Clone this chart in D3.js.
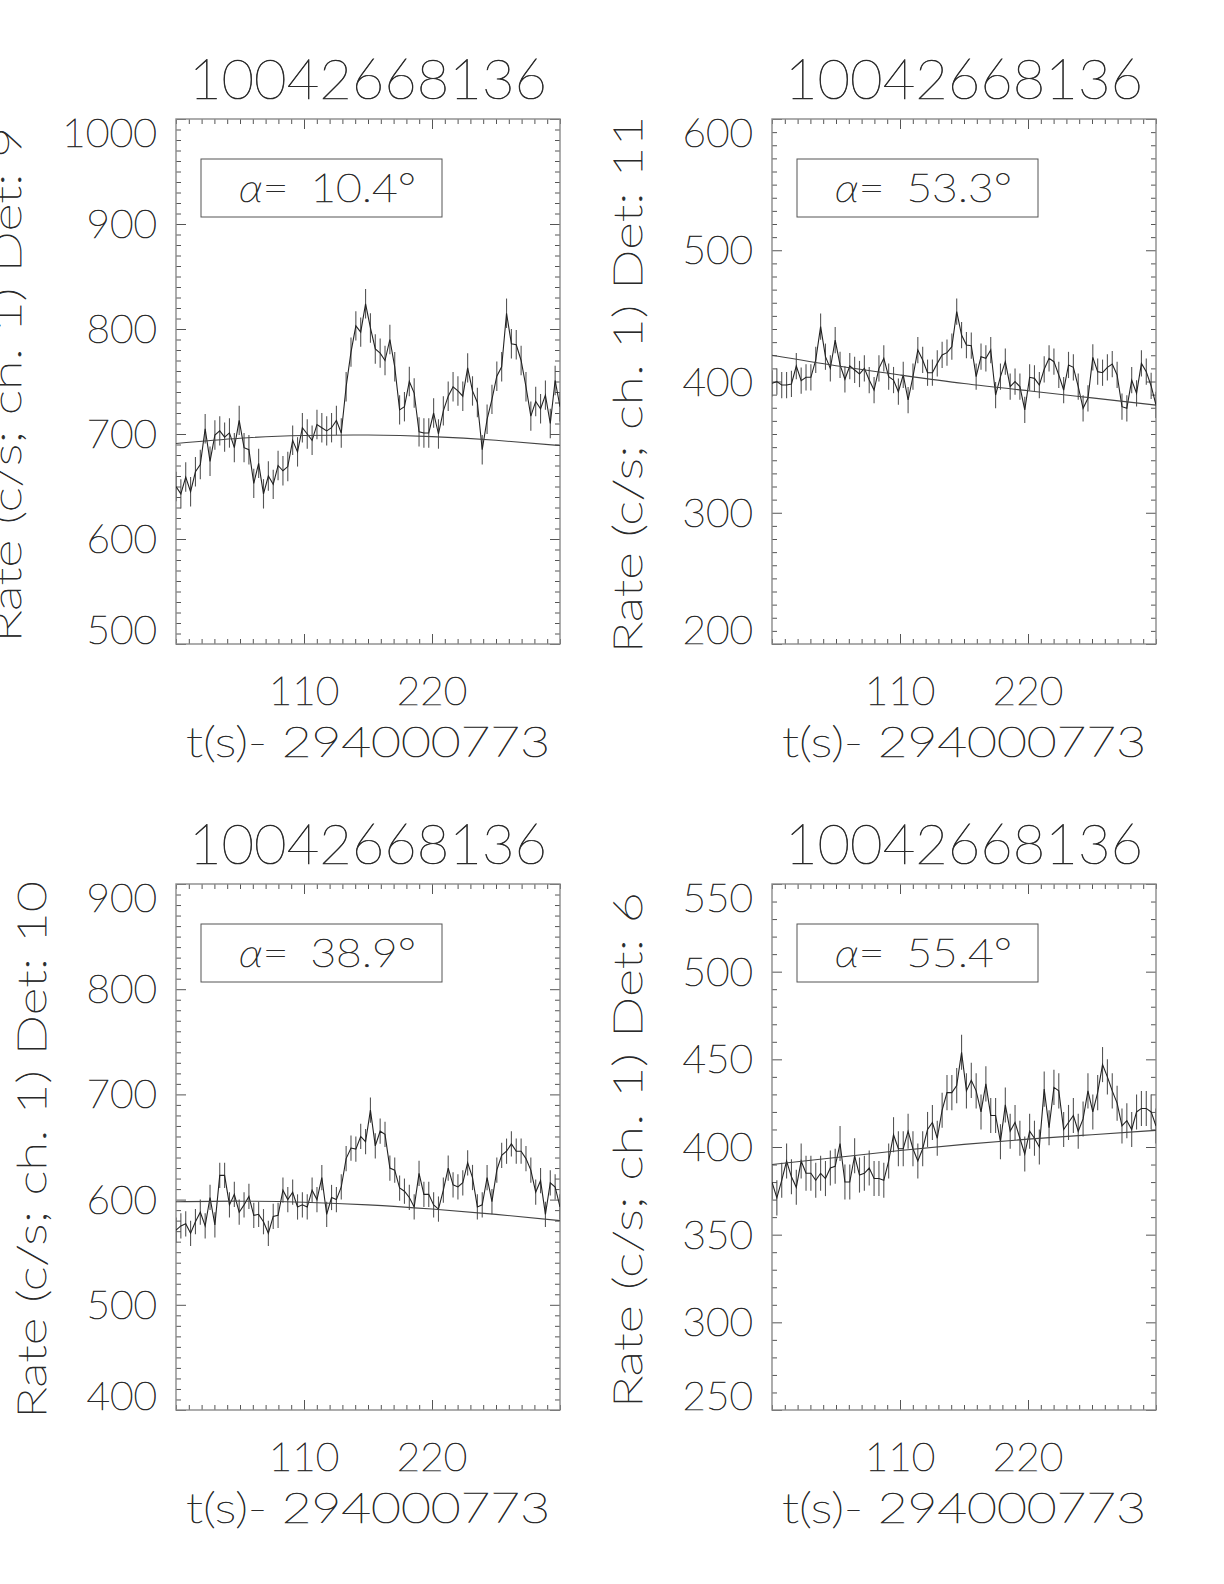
<!DOCTYPE html>
<html><head><meta charset="utf-8">
<script src="https://cdn.jsdelivr.net/npm/d3@7"></script>
<style>
body{margin:0;background:#fff;}
svg text{font-family:Lato,"DejaVu Sans",sans-serif;font-weight:200;fill:#2a2a2a;stroke:#2a2a2a;stroke-width:0.65px;}
</style></head><body>
<svg id="c" width="1224" height="1584" xmlns="http://www.w3.org/2000/svg"></svg>
<script>
// ---------------- data ----------------
const plotTitles = ["10042668136","10042668136","10042668136","10042668136"];
const detectors = ["9","11","10","6"];
const alphaValues = ["10.4","53.3","38.9","55.4"];
const xDomain = [0, 330];
const xTickValues = [110, 220];
const xMinorStep = 11;
const xTitle = "t(s)- 294000773";
const yDomains = [[500,1000],[200,600],[400,900],[250,550]];
const yTickSteps = [100,100,100,50];
const yMinorStep = 10;
const nBins = 80;

const rateDet9 = [650,643,659,645,664,671,705,674,699,703,697,701,687,713,687,685,653,672,643,660,
  652,670,665,669,694,683,706,700,694,709,706,703,706,713,701,745,778,803,797,824,
  801,781,777,770,790,764,723,726,750,739,702,701,701,720,700,722,736,745,741,736,
  763,741,730,685,714,733,755,764,815,786,785,770,745,717,731,724,737,710,751,726];
const rateDet11 = [398.6,399.9,397.3,397.3,398.1,411.8,400.6,403.2,403.2,416.4,441.8,418.9,410,431.6,412.6,401.7,411.8,408.8,405.7,410,
  401.1,393.5,410,417.7,403.7,401.1,392.2,405,385.9,403.7,424,416.4,406.7,406.7,413.8,420.2,422,426.5,453.2,435.4,
  427.8,427.3,403.7,418.9,417.7,424,389.7,403.7,415.1,396.1,399.9,396.1,378.3,403.2,402.4,397.3,409.3,417.7,415.1,405,
  393.5,412.6,410.8,396.1,379.6,387.2,418.4,407.5,406.7,410.8,413.3,405,380.8,379.6,401.1,391,413.8,407.5,396.6,382.1];
const rateDet10 = [571,575,577,568,579,588,575,602,576,623,623,595,605,588,595,603,585,586,579,568,
  584,585,609,600,607,593,595,593,609,600,621,586,602,600,612,639,649,648,660,655,
  685,651,665,662,630,628,611,608,602,593,625,605,605,595,591,609,630,614,612,616,
  635,621,593,595,621,598,628,642,646,653,646,646,639,628,607,618,586,616,612,593];
const rateDet6 = [380,371,381,392,383,377,392,385,385,381,385,382,388,389,402,380,380,395,384,385,
  388,382,382,381,392,407,399,399,409,399,392,399,410,414,405,421,431,431,435,454,
  432,438,432,420,436,418,418,403,424,409,414,405,396,409,405,400,433,411,434,432,
  410,414,418,409,416,432,420,431,447,440,432,425,412,415,410,420,422,422,420,412];
const errHalf = [14, 10, 12, 10];

const modelT = [0,55,110,165,220,275,330];
const modelDet9  = [691,696,698.5,699,697.5,694,689];
const modelDet11 = [420,412,405,398.5,393,387.5,382];
const modelDet10 = [598,598.5,597.5,595,591,586,580];
const modelDet6  = [390,394,398,401.5,404.5,407,409.5];

// ---------------- layout ----------------
const frames = [
  {x0:176, x1:560, y0:119, y1:644},
  {x0:772, x1:1156, y0:119, y1:644},
  {x0:176, x1:560, y0:884, y1:1410},
  {x0:772, x1:1156, y0:884, y1:1410}
];
const rates = [rateDet9, rateDet11, rateDet10, rateDet6];
const models = [modelDet9, modelDet11, modelDet10, modelDet6];
const binTimes = d3.range(nBins).map(i => xDomain[0] + i*(xDomain[1]-xDomain[0])/(nBins-1));

const svg = d3.select("#c");

frames.forEach((f, k) => {
  const g = svg.append("g");
  const x = d3.scaleLinear().domain(xDomain).range([f.x0, f.x1]);
  const y = d3.scaleLinear().domain(yDomains[k]).range([f.y1, f.y0]);
  const [lo, hi] = yDomains[k];
  const yMajor = d3.range(lo, hi + 0.001, yTickSteps[k]);
  const yMinor = d3.range(lo, hi + 0.001, yMinorStep).filter(v => !yMajor.includes(v));
  const xMinor = d3.range(xDomain[0], xDomain[1] + 0.001, xMinorStep).filter(v => !xTickValues.includes(v));

  const clipId = "clip" + k;
  svg.append("clipPath").attr("id", clipId).append("rect")
    .attr("x", f.x0).attr("y", f.y0).attr("width", f.x1 - f.x0).attr("height", f.y1 - f.y0);

  const styleAxis = s => { s.select(".domain").remove(); s.selectAll("line").attr("stroke", "#555").attr("stroke-width", 1); s.selectAll("text").remove(); };
  g.append("g").attr("transform", `translate(0,${f.y1})`).call(d3.axisBottom(x).tickValues(xTickValues).tickSize(-10)).call(styleAxis);
  g.append("g").attr("transform", `translate(0,${f.y1})`).call(d3.axisBottom(x).tickValues(xMinor).tickSize(-5)).call(styleAxis);
  g.append("g").attr("transform", `translate(0,${f.y0})`).call(d3.axisTop(x).tickValues(xTickValues).tickSize(-10)).call(styleAxis);
  g.append("g").attr("transform", `translate(0,${f.y0})`).call(d3.axisTop(x).tickValues(xMinor).tickSize(-5)).call(styleAxis);
  g.append("g").attr("transform", `translate(${f.x0},0)`).call(d3.axisLeft(y).tickValues(yMajor).tickSize(-10)).call(styleAxis);
  g.append("g").attr("transform", `translate(${f.x0},0)`).call(d3.axisLeft(y).tickValues(yMinor).tickSize(-5)).call(styleAxis);
  g.append("g").attr("transform", `translate(${f.x1},0)`).call(d3.axisRight(y).tickValues(yMajor).tickSize(-10)).call(styleAxis);
  g.append("g").attr("transform", `translate(${f.x1},0)`).call(d3.axisRight(y).tickValues(yMinor).tickSize(-5)).call(styleAxis);

  g.append("rect").attr("x", f.x0).attr("y", f.y0).attr("width", f.x1 - f.x0).attr("height", f.y1 - f.y0)
    .attr("fill", "none").attr("stroke", "#8a8a8a").attr("stroke-width", 1.4);

  const cap = 28;
  yMajor.forEach(v => {
    let b = y(v) + cap / 2;
    b = Math.min(b, f.y1);
    b = Math.max(b, f.y0 + cap);
    const s = String(v);
    g.append("text").attr("x", f.x0 - 19).attr("y", b).attr("text-anchor", "end")
      .attr("font-size", 39).attr("textLength", s.length * 24.5 - 3).attr("lengthAdjust", "spacingAndGlyphs").text(s);
  });
  xTickValues.forEach(v => {
    const s = String(v);
    g.append("text").attr("x", x(v)).attr("y", f.y1 + 61).attr("text-anchor", "middle")
      .attr("font-size", 39).attr("textLength", s.length * 24.5 - 3).attr("lengthAdjust", "spacingAndGlyphs").text(s);
  });
  const cx = (f.x0 + f.x1) / 2;
  g.append("text").attr("x", cx).attr("y", f.y1 + 113).attr("text-anchor", "middle")
    .attr("font-size", 41).attr("textLength", 364).attr("lengthAdjust", "spacingAndGlyphs").text(xTitle);
  g.append("text").attr("x", cx).attr("y", f.y0 - 20).attr("text-anchor", "middle")
    .attr("font-size", 56).attr("textLength", 358).attr("lengthAdjust", "spacingAndGlyphs").text(plotTitles[k]);
  const nDig = String(hi).length;
  const yt = `Rate (c/s; ch. 1) Det: ${detectors[k]}`;
  const bx = f.x0 - 19 - nDig * 24.5 - 38;
  const cy = (f.y0 + f.y1) / 2 + 3;
  g.append("text").attr("transform", `translate(${bx},${cy}) rotate(-90)`).attr("text-anchor", "middle")
    .attr("font-size", 40).attr("textLength", yt.length * 21.5).attr("lengthAdjust", "spacingAndGlyphs").text(yt);

  g.append("rect").attr("x", f.x0 + 25).attr("y", f.y0 + 40).attr("width", 241).attr("height", 58)
    .attr("fill", "none").attr("stroke", "#555").attr("stroke-width", 1);
  const at = g.append("text").attr("x", f.x0 + 63).attr("y", f.y0 + 83).attr("font-size", 40)
    .attr("textLength", 177).attr("lengthAdjust", "spacingAndGlyphs");
  at.append("tspan").attr("font-style", "italic").text("α");
  at.append("tspan").text("=\u2002" + alphaValues[k] + "°");

  const dg = g.append("g").attr("clip-path", `url(#${clipId})`);
  const data = rates[k].map((v, i) => ({t: binTimes[i], v}));
  const e = errHalf[k];
  dg.selectAll("line.eb").data(data).join("line").attr("class", "eb")
    .attr("x1", d => x(d.t)).attr("x2", d => x(d.t))
    .attr("y1", d => y(d.v - e)).attr("y2", d => y(d.v + e))
    .attr("stroke", "#555").attr("stroke-width", 1.1);
  dg.append("path").datum(data)
    .attr("d", d3.line().x(d => x(d.t)).y(d => y(d.v)))
    .attr("fill", "none").attr("stroke", "#222").attr("stroke-width", 1.1);
  const md = modelT.map((t, i) => ({t, v: models[k][i]}));
  dg.append("path").datum(md)
    .attr("d", d3.line().curve(d3.curveNatural).x(d => x(d.t)).y(d => y(d.v)))
    .attr("fill", "none").attr("stroke", "#444").attr("stroke-width", 1.1);
});
</script>
</body></html>
